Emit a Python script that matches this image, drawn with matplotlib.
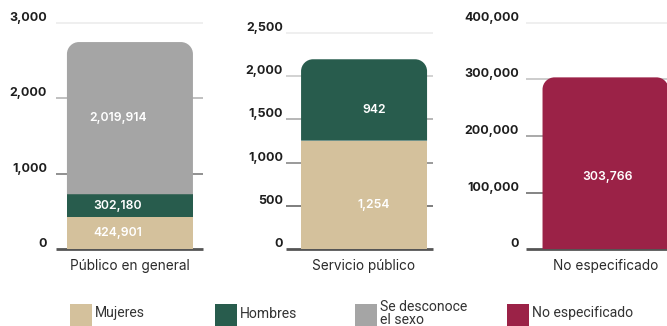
import matplotlib
matplotlib.use("Agg")
import matplotlib.pyplot as plt
from matplotlib.path import Path
from matplotlib.patches import PathPatch, Rectangle

# ---- data -------------------------------------------------------------
series = ["Mujeres", "Hombres", "Se desconoce\nel sexo", "No especificado"]
series_colors = ["#D4C19C", "#285C4D", "#A5A5A5", "#9B2247"]

categories = ["Público en general", "Servicio público", "No especificado"]

publico_general = [424901, 302180, 2019914, 0]
servicio_publico = [1254, 942, 0, 0]
no_especificado = [0, 0, 0, 303766]

# axis units per panel (first panel is read in thousands)
unit_divisor = [1000, 1, 1]

ticks_publico = [0, 1000, 2000, 3000]
ticks_servicio = [0, 500, 1000, 1500, 2000, 2500]
ticks_no_esp = [0, 100000, 200000, 300000, 400000]

# ---- layout ------------------------------------------------------------
W, H = 667, 326
fig = plt.figure(figsize=(W / 100, H / 100), dpi=100)

NUM_FONT = ["Inter", "DejaVu Sans"]
LEG_FONT = ["Roboto", "DejaVu Sans"]

# pixel boxes: left, top, right, bottom (bottom = zero line)
boxes = [(56, 23, 203, 249), (286, 33, 433, 249), (526, 23, 673, 249)]
bar_centers = [0.003, 0.031, 0.041]          # in axis units, xlim = (-0.5, 0.5)
label_pads = [9, 3, 7]                        # tick label gap, px
value_offsets = [(-12, 0), (10, -10), (2, -14)]  # value label nudge, px
BAR_W_PX = 126
RADIUS_PX = 12


def rounded_top(x0, x1, y0, y1, rx, ry):
    k = 0.5523
    verts = [
        (x0, y0), (x0, y1 - ry),
        (x0, y1 - ry + k * ry), (x0 + rx - k * rx, y1), (x0 + rx, y1),
        (x1 - rx, y1),
        (x1 - rx + k * rx, y1), (x1, y1 - ry + k * ry), (x1, y1 - ry),
        (x1, y0), (x0, y0),
    ]
    codes = [Path.MOVETO, Path.LINETO,
             Path.CURVE4, Path.CURVE4, Path.CURVE4,
             Path.LINETO,
             Path.CURVE4, Path.CURVE4, Path.CURVE4,
             Path.LINETO, Path.CLOSEPOLY]
    return Path(verts, codes)


def fmt(v):
    return f"{v:,.0f}"


panels = [
    (publico_general, ticks_publico),
    (servicio_publico, ticks_servicio),
    (no_especificado, ticks_no_esp),
]

for i, ((values, ticks), box) in enumerate(zip(panels, boxes)):
    left, top, right, bottom = box
    ax = fig.add_axes([left / W, (H - bottom) / H,
                       (right - left) / W, (bottom - top) / H])
    ymax = ticks[-1]
    ax.set_xlim(-0.5, 0.5)
    ax.set_ylim(0, ymax)
    ax.axis("off")

    ax_w_px = right - left
    ax_h_px = bottom - top
    bw = BAR_W_PX / ax_w_px
    rx = RADIUS_PX / ax_w_px
    ry = RADIUS_PX * ymax / ax_h_px

    # gridlines, fading from dark at zero to pale at the top
    for t in ticks:
        frac = t / ymax
        g = int(round(0x55 + frac * (0xEE - 0x55)))
        col = f"#{g:02x}{g:02x}{g:02x}"
        lw = 2.0 if t == 0 else 1.3
        ax.plot([-0.5, 0.5], [t, t], color=col, lw=lw,
                solid_capstyle="butt", zorder=1, clip_on=False)
        ax.annotate(fmt(t), xy=(0, t), xycoords=("axes fraction", "data"),
                    xytext=(-label_pads[i], 5), textcoords="offset pixels",
                    ha="right", va="center", fontsize=9.0,
                    fontweight="bold", color="#1e1e1e", family=NUM_FONT,
                    annotation_clip=False)

    # stacked bar
    cx = bar_centers[i]
    x0, x1 = cx - bw / 2, cx + bw / 2
    scaled = [v / unit_divisor[i] for v in values]
    nonzero = [j for j, v in enumerate(scaled) if v > 0]
    base = 0.0
    for j in nonzero:
        h = scaled[j]
        if j == nonzero[-1]:
            patch = PathPatch(rounded_top(x0, x1, base, base + h, rx, ry),
                              facecolor=series_colors[j], edgecolor="none",
                              zorder=2, clip_on=False)
        else:
            patch = Rectangle((x0, base), bw, h, facecolor=series_colors[j],
                              edgecolor="none", zorder=2, clip_on=False)
        ax.add_patch(patch)
        dx, dy = value_offsets[i]
        ax.annotate(fmt(values[j]), xy=(cx, base + h / 2),
                    xytext=(dx, dy), textcoords="offset pixels",
                    ha="center", va="center", fontsize=8.8,
                    fontweight="semibold", color="white", family=NUM_FONT,
                    zorder=3, annotation_clip=False)
        base += h

    # category label
    ax.annotate(categories[i], xy=(cx, 0), xytext=(0, -17),
                textcoords="offset pixels", ha="center", va="center",
                fontsize=9.8, color="#2a2a2a", family=NUM_FONT,
                annotation_clip=False)

# ---- legend -------------------------------------------------------------
legend_x = [70, 215, 355, 507]
for name, col, x in zip(series, series_colors, legend_x):
    fig.add_artist(Rectangle((x / W, -6 / H), 22 / W, 28 / H,
                             transform=fig.transFigure, facecolor=col,
                             edgecolor="none"))
    fig.text((x + 25) / W, 12.5 / H, name, ha="left", va="center",
             fontsize=10.1, color="#333333", family=LEG_FONT,
             linespacing=0.98)

fig.savefig("out.png", dpi=100)
